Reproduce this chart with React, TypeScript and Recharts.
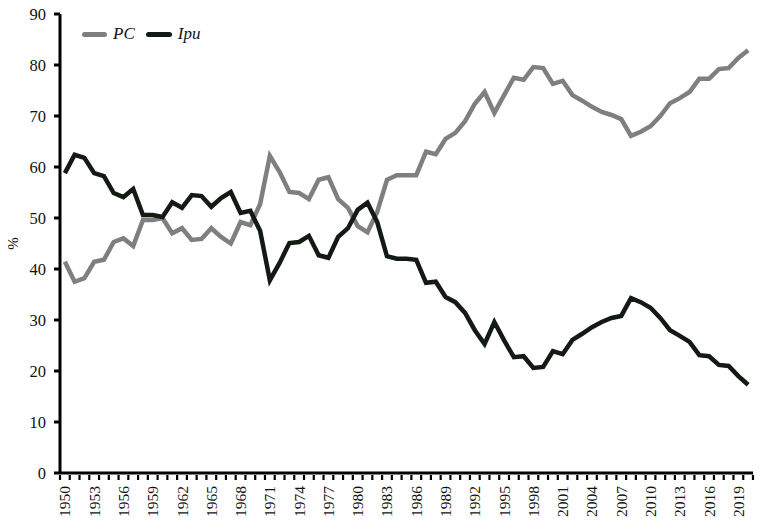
import React from "react";
import { LineChart, Line, XAxis, YAxis } from "recharts";

const years: number[] = [
  1950, 1951, 1952, 1953, 1954, 1955, 1956, 1957, 1958, 1959,
  1960, 1961, 1962, 1963, 1964, 1965, 1966, 1967, 1968, 1969,
  1970, 1971, 1972, 1973, 1974, 1975, 1976, 1977, 1978, 1979,
  1980, 1981, 1982, 1983, 1984, 1985, 1986, 1987, 1988, 1989,
  1990, 1991, 1992, 1993, 1994, 1995, 1996, 1997, 1998, 1999,
  2000, 2001, 2002, 2003, 2004, 2005, 2006, 2007, 2008, 2009,
  2010, 2011, 2012, 2013, 2014, 2015, 2016, 2017, 2018, 2019, 2020,
];

const pcValues: number[] = [
  41.4, 37.5, 38.2, 41.4, 41.8, 45.3, 46.0, 44.5, 49.6, 49.6,
  50.0, 47.0, 48.0, 45.7, 45.9, 48.0, 46.3, 45.0, 49.2, 48.6,
  52.7, 62.2, 59.0, 55.1, 54.9, 53.7, 57.5, 58.0, 53.7, 52.0,
  48.4, 47.2, 51.2, 57.5, 58.4, 58.4, 58.4, 63.0, 62.5, 65.5,
  66.7, 69.0, 72.4, 74.7, 70.6, 74.1, 77.5, 77.1, 79.6, 79.4,
  76.3, 76.9, 74.1, 73.0, 71.8, 70.8, 70.2, 69.4, 66.1, 66.9,
  68.0, 70.0, 72.5, 73.5, 74.7, 77.3, 77.3, 79.2, 79.4, 81.4, 82.9,
];

const ipuValues: number[] = [
  58.8, 62.4, 61.8, 58.8, 58.2, 54.9, 54.1, 55.7, 50.6, 50.6,
  50.2, 53.1, 52.0, 54.5, 54.3, 52.2, 53.9, 55.1, 51.0, 51.4,
  47.5, 37.8, 41.2, 45.1, 45.3, 46.5, 42.7, 42.2, 46.3, 48.0,
  51.6, 53.0, 49.2, 42.5, 42.0, 42.0, 41.8, 37.3, 37.5, 34.5,
  33.5, 31.4, 28.0, 25.3, 29.6, 26.0, 22.7, 22.9, 20.6, 20.8,
  23.9, 23.3, 26.1, 27.3, 28.6, 29.6, 30.4, 30.8, 34.3, 33.5,
  32.4, 30.4, 28.0, 26.9, 25.7, 23.1, 22.9, 21.2, 21.0, 19.0, 17.3,
];

const yTicks: number[] = [0, 10, 20, 30, 40, 50, 60, 70, 80, 90];

const seriesNames = { pc: "PC", ipu: "Ipu" };
const yLabel = "%";

const data = years.map((y, i) => ({ year: y, pc: pcValues[i], ipu: ipuValues[i] }));

const W = 763;
const H = 532;
const YAXIS_W = 60;
const MARGIN_RIGHT = 10;
const PLOT_W = W - YAXIS_W - MARGIN_RIGHT;
const HALF = PLOT_W / years.length / 2;
const FONT = "'Liberation Serif', 'Times New Roman', serif";
const GRAY = "#7f7f81";
const BLACK = "#131a13";

const XTick = (props: any) => {
  const { x, y, payload, index } = props;
  const year = payload.value as number;
  const axisY = y;
  const showLabel = (year - years[0]) % 3 === 0;
  return (
    <g>
      <line x1={x - HALF} x2={x - HALF} y1={axisY} y2={axisY + 5} stroke="#000" strokeWidth={2.2} />
      {index === years.length - 1 && (
        <line x1={x + HALF} x2={x + HALF} y1={axisY} y2={axisY + 5} stroke="#000" strokeWidth={2.2} />
      )}
      {showLabel && (
        <text
          x={x}
          y={axisY + 11}
          transform={`rotate(-90, ${x}, ${axisY + 11})`}
          textAnchor="end"
          dominantBaseline="central"
          style={{ fontFamily: FONT, fontSize: 15.5 }}
          fill="#111"
        >
          {year}
        </text>
      )}
    </g>
  );
};

const YTick = (props: any) => {
  const { x, y, payload } = props;
  return (
    <text x={x} y={y} textAnchor="end" dominantBaseline="central" style={{ fontFamily: FONT, fontSize: 16.5 }} fill="#111">
      {payload.value}
    </text>
  );
};

const YLabel = (props: any) => {
  const vb = props.viewBox || {};
  const cx = 13;
  const cy = (vb.y || 0) + (vb.height || 0) / 2;
  return (
    <text x={cx} y={cy} transform={`rotate(-90, ${cx}, ${cy})`} textAnchor="middle" dominantBaseline="central" style={{ fontFamily: FONT, fontSize: 15 }} fill="#111">
      {yLabel}
    </text>
  );
};

const LegendOverlay = () => (
  <div style={{ position: "absolute", top: 24, left: 82, display: "flex", alignItems: "center", fontFamily: FONT, fontStyle: "italic", fontSize: 17, color: "#111", lineHeight: "20px" }}>
    <span style={{ display: "inline-block", width: 25, height: 5, borderRadius: 3, background: GRAY }} />
    <span style={{ marginLeft: 6, marginRight: 11 }}>{seriesNames.pc}</span>
    <span style={{ display: "inline-block", width: 26, height: 5, borderRadius: 3, background: BLACK }} />
    <span style={{ marginLeft: 6 }}>{seriesNames.ipu}</span>
  </div>
);

export default function App() {
  return (
    <div style={{ position: "relative", width: W, height: H, margin: -8, background: "#fff" }}>
      <LineChart width={W} height={H} data={data} margin={{ top: 14, right: MARGIN_RIGHT, bottom: 0, left: 0 }}>
        <XAxis
          dataKey="year"
          type="number"
          domain={[years[0] - 0.5, years[years.length - 1] + 0.5]}
          ticks={years}
          interval={0}
          height={59}
          axisLine={{ stroke: "#000", strokeWidth: 3 }}
          tickLine={false}
          tickSize={0}
          tick={<XTick />}
        />
        <YAxis
          width={YAXIS_W}
          domain={[0, 90]}
          ticks={yTicks}
          interval={0}
          axisLine={{ stroke: "#000", strokeWidth: 3 }}
          tickLine={{ stroke: "#000", strokeWidth: 3 }}
          tickSize={6}
          tickMargin={8}
          tick={<YTick />}
          label={<YLabel />}
        />
        <Line type="linear" dataKey="pc" name={seriesNames.pc} stroke={GRAY} strokeWidth={4.5} dot={false} isAnimationActive={false} />
        <Line type="linear" dataKey="ipu" name={seriesNames.ipu} stroke={BLACK} strokeWidth={4.5} dot={false} isAnimationActive={false} />
      </LineChart>
      <LegendOverlay />
    </div>
  );
}
